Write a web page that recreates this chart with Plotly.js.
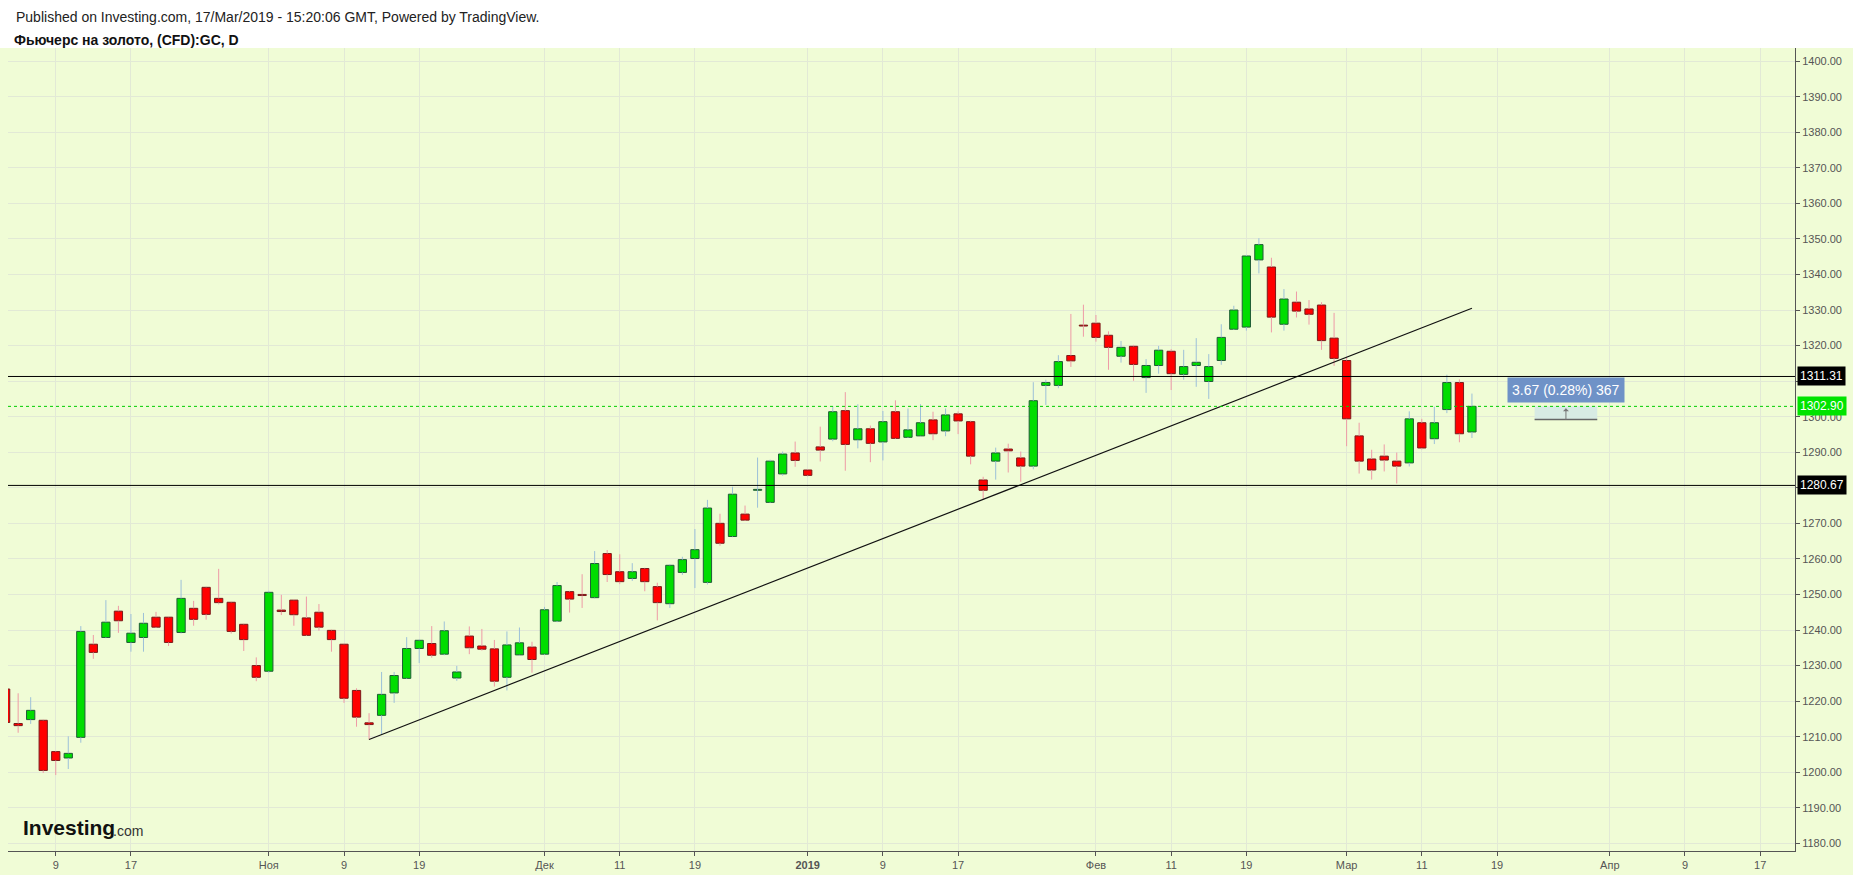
<!DOCTYPE html>
<html><head><meta charset="utf-8">
<script src="https://cdn.plot.ly/plotly-3.0.1.min.js"></script>
<style>html,body{margin:0;padding:0;background:#fff;} #chart{width:1853px;height:875px;}</style>
</head><body><div id="chart"></div>
<script>
const dates = [
'2018-10-03','2018-10-04','2018-10-05','2018-10-08','2018-10-09','2018-10-10','2018-10-11','2018-10-12','2018-10-15','2018-10-16','2018-10-17','2018-10-18','2018-10-19','2018-10-22','2018-10-23','2018-10-24','2018-10-25','2018-10-26','2018-10-29','2018-10-30','2018-10-31',
'2018-11-01','2018-11-02','2018-11-05','2018-11-06','2018-11-07','2018-11-08','2018-11-09','2018-11-12','2018-11-13','2018-11-14','2018-11-15','2018-11-16','2018-11-19','2018-11-20','2018-11-21','2018-11-22','2018-11-23','2018-11-26','2018-11-27','2018-11-28','2018-11-29','2018-11-30',
'2018-12-03','2018-12-04','2018-12-05','2018-12-06','2018-12-07','2018-12-10','2018-12-11','2018-12-12','2018-12-13','2018-12-14','2018-12-17','2018-12-18','2018-12-19','2018-12-20','2018-12-21','2018-12-24','2018-12-25','2018-12-26','2018-12-27','2018-12-28','2018-12-31',
'2019-01-01','2019-01-02','2019-01-03','2019-01-04','2019-01-07','2019-01-08','2019-01-09','2019-01-10','2019-01-11','2019-01-14','2019-01-15','2019-01-16','2019-01-17','2019-01-18','2019-01-21','2019-01-22','2019-01-23','2019-01-24','2019-01-25','2019-01-28','2019-01-29','2019-01-30','2019-01-31',
'2019-02-01','2019-02-04','2019-02-05','2019-02-06','2019-02-07','2019-02-08','2019-02-11','2019-02-12','2019-02-13','2019-02-14','2019-02-15','2019-02-18','2019-02-19','2019-02-20','2019-02-21','2019-02-22','2019-02-25','2019-02-26','2019-02-27','2019-02-28',
'2019-03-01','2019-03-04','2019-03-05','2019-03-06','2019-03-07','2019-03-08','2019-03-11','2019-03-12','2019-03-13','2019-03-14','2019-03-15'
];
const openP = [
1223.4,1213.7,1214.8,1214.6,1205.8,1204.0,1209.8,1236.0,1237.9,1245.3,1236.5,1237.9,1243.6,1243.6,1239.3,1246.1,1252.0,1248.9,1247.8,1241.6,1230.0,
1228.4,1245.6,1248.4,1243.4,1245.0,1239.9,1236.0,1223.0,1213.9,1216.0,1222.3,1226.4,1234.8,1236.2,1233.2,1226.5,1238.3,1235.5,1234.7,1226.7,1233.0,1235.2,
1233.2,1242.5,1250.8,1250.0,1249.1,1261.5,1256.4,1254.5,1257.3,1252.2,1247.4,1256.2,1260.1,1253.4,1270.0,1266.3,1272.6,1279.3,1275.9,1283.9,1289.8,
1285.0,1291.5,1293.7,1301.7,1293.5,1296.6,1292.9,1301.4,1294.2,1294.6,1299.1,1296.0,1300.8,1298.6,1282.2,1287.5,1290.9,1288.4,1286.1,1308.8,1308.8,1317.2,1325.6,
1326.3,1322.9,1317.0,1319.8,1311.0,1314.4,1318.4,1311.9,1314.4,1309.9,1315.8,1324.6,1325.2,1344.1,1342.1,1326.0,1332.2,1330.3,1331.4,1322.1,
1315.8,1294.6,1288.1,1288.9,1287.5,1287.0,1298.3,1293.8,1302.0,1309.6,1295.7
];
const highP = [
1224.2,1222.2,1221.1,1214.8,1206.0,1210.1,1241.1,1238.6,1248.4,1246.8,1244.5,1244.8,1245.1,1243.8,1254.1,1248.2,1252.2,1257.2,1248.0,1241.8,1232.3,
1251.0,1249.9,1248.6,1249.4,1247.3,1240.1,1236.2,1223.6,1216.6,1228.2,1228.2,1238.0,1237.3,1241.1,1242.4,1229.9,1241.0,1240.3,1237.2,1239.6,1240.7,1236.7,
1246.5,1253.5,1251.0,1255.7,1262.2,1262.5,1261.3,1258.8,1257.5,1253.3,1258.5,1260.6,1268.4,1276.6,1272.7,1280.3,1275.0,1288.5,1287.9,1290.2,1293.0,
1285.2,1297.2,1303.0,1306.9,1303.5,1297.5,1301.6,1304.6,1302.3,1303.5,1301.4,1302.3,1301.5,1298.9,1283.1,1291.3,1292.4,1290.2,1309.7,1310.4,1317.3,1328.9,1331.5,
1328.6,1324.0,1321.3,1320.2,1316.2,1319.9,1319.0,1318.8,1322.1,1317.6,1326.0,1331.2,1345.5,1350.2,1344.7,1335.9,1335.2,1332.8,1332.2,1329.2,
1316.8,1298.3,1290.7,1292.2,1289.9,1301.5,1299.4,1302.8,1311.8,1310.5,1306.5
];
const lowP = [
1213.5,1211.1,1213.6,1199.8,1199.2,1200.9,1208.3,1231.9,1237.7,1239.2,1233.9,1233.9,1240.6,1235.5,1239.0,1241.2,1242.9,1247.2,1239.0,1234.1,1225.6,
1228.0,1244.2,1241.2,1238.3,1239.8,1233.9,1219.5,1212.8,1209.2,1210.6,1219.5,1226.2,1230.7,1232.2,1232.9,1225.7,1233.2,1234.2,1224.1,1223.0,1232.8,1228.0,
1233.0,1242.2,1244.9,1246.2,1248.9,1253.5,1252.9,1253.8,1250.9,1242.7,1246.2,1255.5,1251.8,1252.8,1263.7,1266.1,1270.7,1274.4,1275.7,1283.4,1285.9,
1283.2,1287.4,1293.1,1284.8,1291.1,1287.2,1287.7,1293.7,1294.0,1294.4,1293.4,1294.5,1295.1,1286.6,1276.6,1282.3,1284.3,1281.7,1285.2,1303.3,1308.0,1314.0,1322.5,
1321.1,1313.2,1315.2,1310.1,1306.7,1312.1,1307.5,1310.4,1308.4,1305.0,1314.6,1324.4,1324.2,1340.3,1323.7,1324.2,1327.9,1325.9,1318.8,1314.3,
1291.7,1284.0,1282.3,1284.6,1281.2,1286.0,1290.8,1292.3,1301.0,1292.8,1294.0
];
const closeP = [
1214.0,1213.1,1217.4,1200.5,1203.3,1205.3,1239.6,1233.7,1242.2,1242.6,1239.1,1241.9,1240.8,1236.5,1248.9,1243.0,1244.4,1247.7,1239.6,1237.3,1226.7,
1250.6,1245.2,1244.3,1238.5,1240.8,1237.3,1220.8,1215.5,1213.4,1221.9,1227.2,1234.8,1237.1,1232.9,1239.8,1228.2,1235.0,1234.6,1225.6,1235.8,1236.4,1231.7,
1245.7,1252.5,1248.7,1249.7,1258.7,1255.6,1253.6,1256.4,1253.6,1247.7,1258.2,1259.8,1262.6,1274.3,1264.4,1278.2,1270.9,1279.4,1287.5,1289.5,1287.7,
1283.5,1290.6,1301.4,1292.2,1296.6,1292.5,1298.6,1293.9,1296.3,1298.3,1295.2,1300.5,1298.8,1288.9,1279.3,1289.8,1290.4,1286.1,1304.5,1309.6,1315.5,1315.7,1325.5,
1322.3,1319.5,1319.5,1314.7,1314.4,1318.7,1312.1,1314.1,1315.3,1314.1,1322.3,1330.0,1345.2,1348.4,1328.0,1333.1,1329.7,1328.8,1321.4,1316.4,
1299.4,1287.5,1285.0,1287.8,1286.1,1299.4,1291.2,1298.3,1309.6,1295.2,1302.9
];
const tickDates = ['2018-10-09','2018-10-17','2018-11-01','2018-11-09','2018-11-19','2018-12-03','2018-12-11','2018-12-19','2019-01-01','2019-01-09','2019-01-17','2019-02-01','2019-02-11','2019-02-19','2019-03-01','2019-03-11','2019-03-19','2019-04-01','2019-04-09','2019-04-17'];
const tickLabels = ['9','17','Ноя','9','19','Дек','11','19','<b>2019</b>','9','17','Фев','11','19','Мар','11','19','Апр','9','17'];
const levelPrices = [1311.31, 1280.67];
const lastPrice = 1302.90;
const trendDates = ['2018-11-13','2019-03-15'];
const trendPrices = [1209.2, 1330.5];
const measureDates = ['2019-03-22','2019-03-29'];
const measurePrices = [1299.23, 1302.90];
const measureText = '3.67 (0.28%) 367';

const FONT = 'Liberation Sans, Arial, sans-serif';
const DAY = 86400000;
const upWx=[],upWy=[],dnWx=[],dnWy=[],bodyBase=[],bodySize=[],fills=[],borders=[];
for (let i=0;i<dates.length;i++){
  const up = closeP[i] >= openP[i];
  const bHi = Math.max(openP[i],closeP[i]), bLo = Math.min(openP[i],closeP[i]);
  const wx = up?upWx:dnWx, wy = up?upWy:dnWy;
  wx.push(dates[i],dates[i],null,dates[i],dates[i],null);
  wy.push(lowP[i],bLo,null,bHi,highP[i],null);
  bodyBase.push(bLo);
  bodySize.push(Math.max(bHi-bLo,0.25));
  fills.push(up?'#00dd00':'#ff0000');
  borders.push(up?'#1f5c36':'#7a1a1a');
}
const traces = [
 {type:'bar',x:dates,base:bodyBase,y:bodySize,width:dates.map(()=>0.66*DAY),
  marker:{color:fills,line:{color:borders,width:1}},hoverinfo:'skip'},
 {type:'scatter',mode:'lines',x:upWx,y:upWy,line:{color:'#9cc0d8',width:1},hoverinfo:'skip',connectgaps:false},
 {type:'scatter',mode:'lines',x:dnWx,y:dnWy,line:{color:'#ee9aa6',width:1},hoverinfo:'skip',connectgaps:false},
 {type:'scatter',mode:'lines',x:trendDates,y:trendPrices,line:{color:'#111',width:1.2},hoverinfo:'skip'}
];
const midMeasure = '2019-03-26 12:00';
const layout = {
 width:1853,height:875,
 margin:{l:8,r:58,t:48,b:24},
 paper_bgcolor:'#f0fcd6',plot_bgcolor:'#f0fcd6',
 showlegend:false,
 font:{family:FONT,size:11,color:'#555'},
 title:{text:'<b>Фьючерс на золото, (CFD):GC, D</b>',xref:'container',x:14/1853,xanchor:'left',yref:'container',y:1-40/875,yanchor:'middle',font:{family:FONT,size:14,color:'#111'}},
 xaxis:{type:'date',range:['2018-10-03 04:34','2019-04-19 18:40'],rangebreaks:[{bounds:['sat','mon']}],
   rangeslider:{visible:false},tickmode:'array',tickvals:tickDates,ticktext:tickLabels,
   showgrid:true,gridcolor:'#e2e9d6',gridwidth:1,showline:true,linecolor:'#555',linewidth:1,
   ticks:'outside',ticklen:4,tickcolor:'#555',tickfont:{family:FONT,size:11,color:'#555'},zeroline:false,fixedrange:true},
 yaxis:{side:'right',range:[1177.84,1403.7],tick0:1180,dtick:10,tickformat:'.2f',
   showgrid:true,gridcolor:'#e2e9d6',gridwidth:1,showline:true,linecolor:'#555',linewidth:1,
   ticks:'outside',ticklen:4,tickcolor:'#555',tickfont:{family:FONT,size:11,color:'#555'},zeroline:false,fixedrange:true},
 shapes:[
  {type:'rect',xref:'paper',yref:'paper',x0:-0.01,x1:1.04,y0:1,y1:1.07,fillcolor:'#ffffff',line:{width:0},layer:'below'},
  {type:'line',xref:'paper',yref:'y',x0:0,x1:1,y0:levelPrices[0],y1:levelPrices[0],line:{color:'#000',width:1}},
  {type:'line',xref:'paper',yref:'y',x0:0,x1:1,y0:levelPrices[1],y1:levelPrices[1],line:{color:'#000',width:1}},
  {type:'rect',xref:'x',yref:'y',x0:measureDates[0],x1:measureDates[1],y0:measurePrices[0],y1:measurePrices[1],fillcolor:'#d8ebe4',line:{width:0}},
  {type:'line',xref:'x',yref:'y',x0:measureDates[0],x1:measureDates[1],y0:measurePrices[0],y1:measurePrices[0],line:{color:'#666',width:1.5}},
  {type:'line',xref:'paper',yref:'y',x0:0,x1:1,y0:lastPrice,y1:lastPrice,line:{color:'#00cc00',width:1,dash:'dot'}}
 ],
 annotations:[
  {xref:'paper',yref:'paper',x:6/1787,y:1+(48-16.5)/803,xanchor:'left',yanchor:'middle',showarrow:false,
   text:'Published on Investing.com, 17/Mar/2019 - 15:20:06 GMT, Powered by TradingView.',font:{family:FONT,size:14,color:'#222'}},
  {xref:'paper',x:1,xanchor:'left',xshift:2,yref:'y',y:levelPrices[0],showarrow:false,text:levelPrices[0].toFixed(2),bgcolor:'#000',borderpad:2,font:{family:FONT,size:12,color:'#fff'}},
  {xref:'paper',x:1,xanchor:'left',xshift:2,yref:'y',y:lastPrice,showarrow:false,text:lastPrice.toFixed(2),bgcolor:'#00e400',borderpad:2,font:{family:FONT,size:12,color:'#fff'}},
  {xref:'paper',x:1,xanchor:'left',xshift:2,yref:'y',y:levelPrices[1],showarrow:false,text:levelPrices[1].toFixed(2),bgcolor:'#000',borderpad:2,font:{family:FONT,size:12,color:'#fff'}},
  {xref:'x',yref:'y',x:midMeasure,y:1307.5,showarrow:false,text:measureText,bgcolor:'#6f92c7',borderpad:4,font:{family:FONT,size:14,color:'#fff'}},
  {xref:'x',yref:'y',x:midMeasure,y:1302.4,ax:0,ay:13,text:'',showarrow:true,arrowhead:1,arrowsize:1,arrowwidth:1,arrowcolor:'#777'},
  {xref:'paper',yref:'paper',x:13/1787,y:(851-827)/803,xanchor:'left',yanchor:'middle',showarrow:false,text:'<b>Investing</b>',font:{family:FONT,size:21,color:'#111'}},
  {xref:'paper',yref:'paper',x:103/1787,y:(851-831)/803,xanchor:'left',yanchor:'middle',showarrow:false,text:'.com',font:{family:FONT,size:14,color:'#333'}}
 ]
};
Plotly.newPlot('chart',traces,layout,{displayModeBar:false,staticPlot:true});
</script></body></html>
